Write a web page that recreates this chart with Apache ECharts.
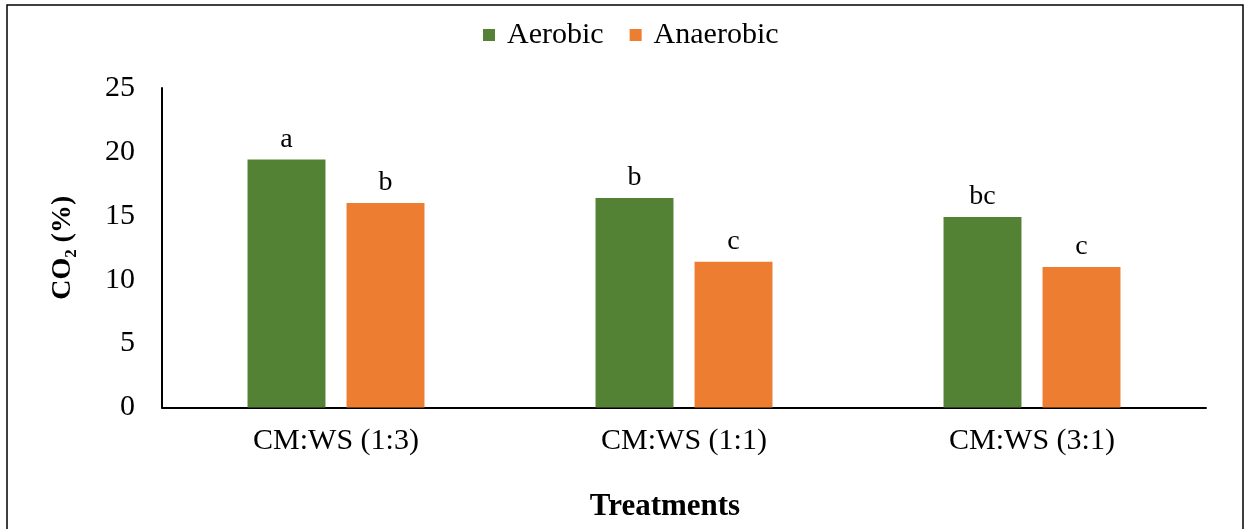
<!DOCTYPE html>
<html>
<head>
<meta charset="utf-8">
<script src="https://cdn.jsdelivr.net/npm/echarts@6/dist/echarts.min.js"></script>
<style>
html,body{margin:0;padding:0;background:#fff;}
#chart{width:1244px;height:529px;}
</style>
</head>
<body>
<div id="chart"></div>
<script>
const categories = ['CM:WS (1:3)', 'CM:WS (1:1)', 'CM:WS (3:1)'];
const aerobic = [19.4, 16.4, 14.9];
const anaerobic = [16.0, 11.4, 11.0];
const aerobicLetters = ['a', 'b', 'bc'];
const anaerobicLetters = ['b', 'c', 'c'];
const yTicks = [0, 5, 10, 15, 20, 25];

const FONT = '"Liberation Serif", "Times New Roman", serif';
const chart = echarts.init(document.getElementById('chart'));

function labelFor(letters) {
  return {
    show: true,
    position: 'top',
    distance: 6,
    fontFamily: FONT,
    fontSize: 28,
    color: '#000',
    formatter: p => letters[p.dataIndex]
  };
}

chart.setOption({
  animation: false,
  textStyle: { fontFamily: FONT },
  graphic: [{
    type: 'rect',
    shape: { x: 7, y: 5, width: 1236, height: 600 },
    style: { fill: 'none', stroke: '#000', lineWidth: 1.5 },
    silent: true
  }],
  legend: {
    top: 15,
    left: 478,
    itemWidth: 12,
    itemHeight: 12,
    itemGap: 26,
    icon: 'rect',
    textStyle: { fontFamily: FONT, fontSize: 30, color: '#000', padding: [0, 0, 0, 7] },
    data: ['Aerobic', 'Anaerobic']
  },
  grid: { left: 162, right: 38, top: 88, bottom: 121.5 },
  xAxis: {
    type: 'category',
    data: categories,
    name: 'Treatments',
    nameLocation: 'middle',
    nameGap: 84,
    nameTextStyle: { fontFamily: FONT, fontSize: 31, fontWeight: 'bold', color: '#000', padding: [0, 38, 0, 0] },
    axisLine: { lineStyle: { color: '#000', width: 2 } },
    axisTick: { show: false },
    axisLabel: { fontFamily: FONT, fontSize: 30, color: '#000', margin: 19 }
  },
  yAxis: {
    type: 'value',
    min: yTicks[0],
    max: yTicks[yTicks.length - 1],
    interval: 5,
    name: 'CO₂ (%)',
    nameLocation: 'middle',
    nameGap: 85,
    nameTextStyle: { fontFamily: FONT, fontSize: 28, fontWeight: 'bold', color: '#000' },
    axisLine: { show: true, lineStyle: { color: '#000', width: 2 } },
    axisTick: { show: false },
    splitLine: { show: false },
    axisLabel: { fontFamily: FONT, fontSize: 30, color: '#000', margin: 27 }
  },
  series: [
    {
      name: 'Aerobic',
      type: 'bar',
      data: aerobic,
      barWidth: '22.4%',
      barGap: '27%',
      itemStyle: { color: '#548235' },
      label: labelFor(aerobicLetters)
    },
    {
      name: 'Anaerobic',
      type: 'bar',
      data: anaerobic,
      barWidth: '22.4%',
      barGap: '27%',
      itemStyle: { color: '#ED7D31' },
      label: labelFor(anaerobicLetters)
    }
  ]
});
</script>
</body>
</html>
